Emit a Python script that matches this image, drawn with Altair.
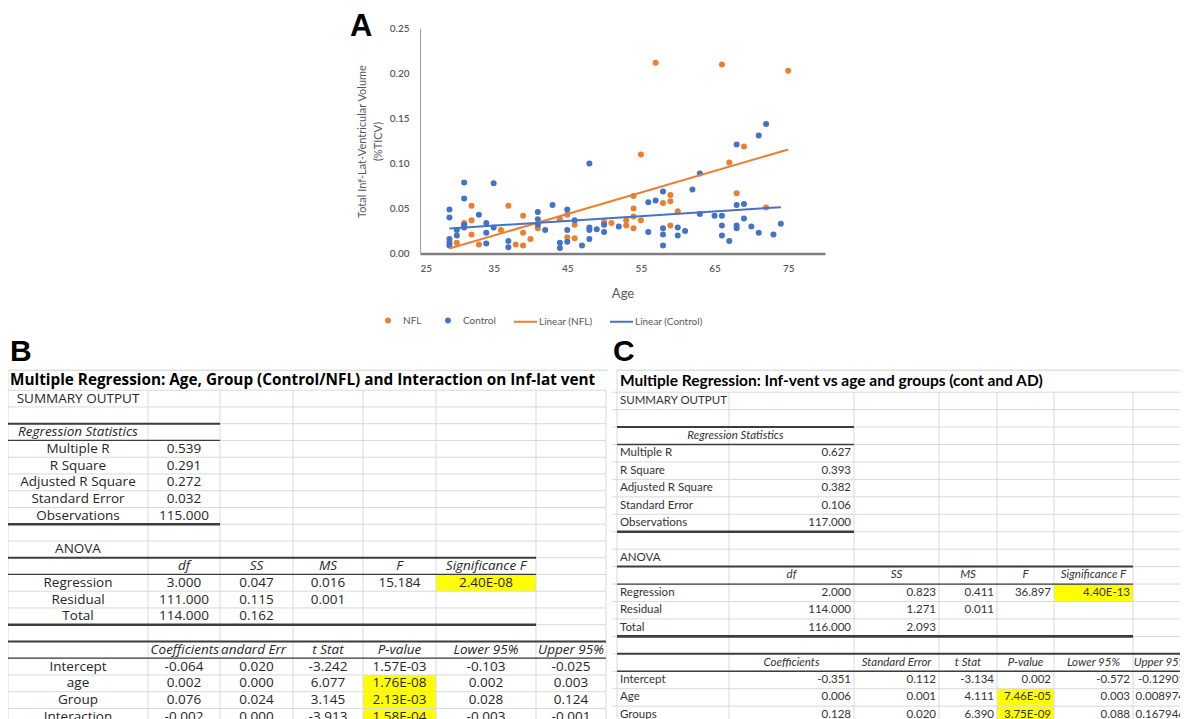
import math
import altair as alt
import pandas as pd

# ================= Panel A : scatter data =================
nfl_age = [57, 66, 75, 55, 69, 67, 68, 72, 54, 54, 54, 54, 55, 58, 59, 59, 59, 60, 53, 53, 51,
           50, 46, 46, 45, 45, 44, 41, 40, 39, 39, 39, 38, 37, 36, 33, 32, 32, 32, 31, 30]
nfl_vol = [0.212, 0.210, 0.203, 0.110, 0.119, 0.101, 0.067, 0.051, 0.064, 0.050, 0.041, 0.028,
           0.037, 0.056, 0.065, 0.058, 0.031, 0.047, 0.037, 0.031, 0.034, 0.035, 0.032, 0.017,
           0.043, 0.018, 0.038, 0.028, 0.016, 0.042, 0.023, 0.009, 0.010, 0.053, 0.026, 0.010,
           0.053, 0.037, 0.021, 0.034, 0.012]
ctrl_age = [72, 71, 68, 63, 48, 62, 58, 57, 56, 68, 69, 31, 35, 31, 29, 29, 43, 45, 41, 41,
            41, 33, 34, 34, 34, 35, 31, 31, 30, 30, 29, 29, 29, 37, 37, 42, 44, 44, 45, 45,
            46, 47, 48, 48, 48, 49, 50, 50, 52, 56, 58, 58, 58, 60, 60, 61, 63, 65, 66, 66,
            66, 67, 68, 68, 69, 70, 71, 73, 74]
ctrl_vol = [0.144, 0.131, 0.121, 0.089, 0.100, 0.071, 0.069, 0.059, 0.057, 0.054,
            0.055, 0.079, 0.078, 0.061, 0.049, 0.040, 0.054, 0.049, 0.046, 0.038,
            0.032, 0.043, 0.034, 0.023, 0.011, 0.029, 0.032, 0.029, 0.026, 0.020,
            0.016, 0.012, 0.009, 0.014, 0.007, 0.026, 0.012, 0.006, 0.026, 0.013,
            0.037, 0.009, 0.029, 0.026, 0.016, 0.027, 0.032, 0.024, 0.030, 0.024,
            0.028, 0.021, 0.009, 0.029, 0.020, 0.025, 0.044, 0.042, 0.042, 0.031,
            0.020, 0.014, 0.031, 0.028, 0.039, 0.030, 0.023, 0.021, 0.033]
trend_nfl_age = [29, 75]
trend_nfl_vol = [0.0056, 0.1156]
trend_ctrl_age = [29, 74]
trend_ctrl_vol = [0.0278, 0.0515]
point_series = ["NFL", "Control"]
line_series = ["Linear (NFL)", "Linear (Control)"]
series_colors = ["#ED7D31", "#4472C4"]
x_ticks = [25, 35, 45, 55, 65, 75]
y_ticks = [0, 0.05, 0.10, 0.15, 0.20, 0.25]

# ================= Panel B : table values =================
B_TITLE = "Multiple Regression: Age,  Group (Control/NFL) and Interaction on Inf-lat vent"
B_STAT_LABELS = ["Multiple R", "R Square", "Adjusted R Square", "Standard Error", "Observations"]
B_STAT_VALUES = ["0.539", "0.291", "0.272", "0.032", "115.000"]
B_ANOVA_HEAD = ["df", "SS", "MS", "F", "Significance F"]
B_ANOVA_LABELS = ["Regression", "Residual", "Total"]
B_ANOVA_VALUES = [["3.000", "0.047", "0.016", "15.184", "2.40E-08"],
                  ["111.000", "0.115", "0.001"],
                  ["114.000", "0.162"]]
B_COEF_HEAD = ["Coefficients", "andard Err", "t Stat", "P-value", "Lower 95%", "Upper 95%"]
B_COEF_LABELS = ["Intercept", "age", "Group", "Interaction"]
B_COEF_VALUES = [["-0.064", "0.020", "-3.242", "1.57E-03", "-0.103", "-0.025"],
                 ["0.002", "0.000", "6.077", "1.76E-08", "0.002", "0.003"],
                 ["0.076", "0.024", "3.145", "2.13E-03", "0.028", "0.124"],
                 ["-0.002", "0.000", "-3.913", "1.58E-04", "-0.003", "-0.001"]]
B_HIGHLIGHT = [(12, 5), (18, 4), (19, 4), (20, 4)]

# ================= Panel C : table values =================
C_TITLE = "Multiple Regression:  Inf-vent vs age and groups (cont and AD)"
C_STAT_LABELS = ["Multiple R", "R Square", "Adjusted R Square", "Standard Error", "Observations"]
C_STAT_VALUES = ["0.627", "0.393", "0.382", "0.106", "117.000"]
C_ANOVA_HEAD = ["df", "SS", "MS", "F", "Significance F"]
C_ANOVA_LABELS = ["Regression", "Residual", "Total"]
C_ANOVA_VALUES = [["2.000", "0.823", "0.411", "36.897", "4.40E-13"],
                  ["114.000", "1.271", "0.011"],
                  ["116.000", "2.093"]]
C_COEF_HEAD = ["Coefficients", "Standard Error", "t Stat", "P-value", "Lower 95%", "Upper 95%"]
C_COEF_LABELS = ["Intercept", "Age", "Groups"]
C_COEF_VALUES = [["-0.351", "0.112", "-3.134", "0.002", "-0.572", "-0.12901"],
                 ["0.006", "0.001", "4.111", "7.46E-05", "0.003", "0.008974"],
                 ["0.128", "0.020", "6.390", "3.75E-09", "0.088", "0.167946"]]
C_HIGHLIGHT = [(12, 5), (18, 4), (19, 4)]

# ================= styling / layout =================
FONT = "Lato"
GREY = "#595959"

# ---------- Panel A chart ----------
pts = pd.DataFrame({
    "age": nfl_age + ctrl_age,
    "vol": nfl_vol + ctrl_vol,
    "series": ["NFL"] * len(nfl_age) + ["Control"] * len(ctrl_age),
})
trend = pd.DataFrame({
    "age": trend_nfl_age + trend_ctrl_age,
    "vol": trend_nfl_vol + trend_ctrl_vol,
    "series": [line_series[0]] * len(trend_nfl_age) + [line_series[1]] * len(trend_ctrl_age),
})

x_scale = alt.Scale(domain=[25, 80], range=[412, 817], nice=False, zero=False)
y_scale = alt.Scale(domain=[0, 0.25], nice=False, zero=False)

leg_pts = alt.Legend(orient="none", legendX=375, legendY=287, direction="horizontal",
                     title=None, labelFont=FONT, labelFontSize=10, labelColor=GREY,
                     labelOffset=10, columnPadding=21, symbolSize=34, symbolType="circle",
                     padding=0)
leg_lines = alt.Legend(orient="none", legendX=505, legendY=280.5, direction="horizontal",
                       title=None, labelFont=FONT, labelFontSize=10, labelColor=GREY,
                       labelOffset=1, columnPadding=13, symbolSize=529, symbolType="stroke",
                       symbolStrokeWidth=2, padding=0)

x_axis = alt.Axis(values=x_ticks, ticks=False, tickSize=0, grid=False, domainColor="#7f7f7f",
                  domainWidth=2.5, labelFont=FONT, labelFontSize=10, labelFontWeight=600,
                  labelColor=GREY, labelPadding=10, title="Age", titleFont=FONT,
                  titleFontSize=13, titleFontWeight="normal", titleColor=GREY, titlePadding=14)
y_axis = alt.Axis(values=y_ticks, format=".2f", offset=-412, ticks=False, tickSize=0,
                  grid=False, domainColor="#a6a6a6", domainWidth=1.2, labelFont=FONT,
                  labelFontSize=10, labelFontWeight=600, labelColor=GREY, labelPadding=11,
                  title=["Total Inf-Lat-Ventricular Volume", "(%TICV)"], titleFont=FONT,
                  titleFontSize=11, titleFontWeight="normal", titleColor=GREY,
                  titleLineHeight=16, titlePadding=6)

points = alt.Chart(pts).mark_circle(size=36, opacity=1).encode(
    x=alt.X("age:Q", scale=x_scale, axis=x_axis),
    y=alt.Y("vol:Q", scale=y_scale, axis=y_axis),
    color=alt.Color("series:N", scale=alt.Scale(domain=point_series, range=series_colors),
                    legend=leg_pts),
)
lines = alt.Chart(trend).mark_line(strokeWidth=2).encode(
    x=alt.X("age:Q", scale=x_scale),
    y=alt.Y("vol:Q", scale=y_scale),
    stroke=alt.Stroke("series:N", scale=alt.Scale(domain=line_series, range=series_colors),
                      legend=leg_lines),
)
letter_a = alt.Chart(pd.DataFrame({"t": ["A"]})).mark_text(
    font="Liberation Sans", fontSize=31, fontWeight="bold", align="left", baseline="top",
    color="black").encode(x=alt.value(342), y=alt.value(-16.5), text="t:N")

scatter = alt.layer(points, lines, letter_a).resolve_scale(color="independent").properties(
    width=817, height=225)


# ---------- table builder ----------
def make_table(edges, width, y_dom, title_top, title, title_x, title_size, letter, letter_x,
               letter_y, cells, highlights, thick, font, body_size, body_color, grid_x0, pad):
    xs = alt.Scale(domain=[0, width], nice=False, zero=False)
    ys = alt.Scale(domain=y_dom, nice=False, zero=False, reverse=True)
    X = lambda f: alt.X(f, scale=xs, axis=None)
    Y = lambda f: alt.Y(f, scale=ys, axis=None)

    last = int(math.floor(y_dom[1]))
    hgrid = pd.DataFrame({"y": list(range(0, last + 1)), "x": grid_x0, "x2": edges[-1]})
    htop = pd.DataFrame({"y": [title_top], "x": [edges[0]], "x2": [width]})
    vgrid = pd.DataFrame({"x": edges, "y": [title_top] + [0] * (len(edges) - 1), "y2": y_dom[1]})

    hl = pd.DataFrame({"x": [edges[c] for r, c in highlights],
                       "x2": [edges[c + 1] for r, c in highlights],
                       "y": [r - 1 for r, c in highlights],
                       "y2": [r for r, c in highlights]})
    th = pd.DataFrame({"y": [t[0] for t in thick], "x": [edges[t[1]] for t in thick],
                       "x2": [edges[t[2]] for t in thick], "w": [t[3] for t in thick]})

    rows = []
    for (row, c0, c1, text, align, style) in cells:
        if align == "center":
            x = (edges[c0] + edges[c1]) / 2
        elif align == "left":
            x = edges[c0] + pad
        else:
            x = edges[c1] - pad
        rows.append({"x": x, "y": row - 0.5, "text": text, "align": align, "style": style})
    cdf = pd.DataFrame(rows)

    layers = [
        alt.Chart(hl).mark_rect(color="#FFFF00", clip=True).encode(
            x=X("x:Q"), x2="x2:Q", y=Y("y:Q"), y2="y2:Q"),
        alt.Chart(hgrid).mark_rule(color="#d9d9d9", strokeWidth=1, clip=True).encode(
            x=X("x:Q"), x2="x2:Q", y=Y("y:Q")),
        alt.Chart(htop).mark_rule(color="#d0d0d0", strokeWidth=1, clip=True).encode(
            x=X("x:Q"), x2="x2:Q", y=Y("y:Q")),
        alt.Chart(vgrid).mark_rule(color="#d9d9d9", strokeWidth=1, clip=True).encode(
            x=X("x:Q"), y=Y("y:Q"), y2="y2:Q"),
        alt.Chart(th).mark_rule(color="#3c3c3c", clip=True).encode(
            x=X("x:Q"), x2="x2:Q", y=Y("y:Q"), strokeWidth=alt.StrokeWidth("w:Q", scale=None)),
    ]
    for (al, st), grp in cdf.groupby(["align", "style"]):
        layers.append(alt.Chart(grp).mark_text(
            align=al, baseline="middle", font=font, fontSize=body_size, fontStyle=st,
            color=body_color, clip=True).encode(x=X("x:Q"), y=Y("y:Q"), text="text:N"))
    layers.append(alt.Chart(pd.DataFrame({"t": [title], "x": [title_x],
                                          "y": [title_top / 2]})).mark_text(
        align="left", baseline="middle", font=font, fontSize=title_size, fontWeight="bold",
        color="black", clip=True).encode(x=X("x:Q"), y=Y("y:Q"), text="t:N"))
    layers.append(alt.Chart(pd.DataFrame({"t": [letter], "x": [letter_x],
                                          "y": [letter_y]})).mark_text(
        align="left", baseline="alphabetic", font="Liberation Sans", fontSize=30,
        fontWeight="bold", color="black", clip=True).encode(x=X("x:Q"), y=Y("y:Q"), text="t:N"))
    return alt.layer(*layers).properties(width=width, height=391)


# ---------- Panel B cells ----------
B_EDGES = [0, 140, 212, 285, 355, 428, 528, 598]
b_cells = [(1, 0, 1, "SUMMARY OUTPUT", "center", "normal"),
           (3, 0, 1, "Regression Statistics", "center", "italic")]
for i, (lab, val) in enumerate(zip(B_STAT_LABELS, B_STAT_VALUES)):
    b_cells.append((4 + i, 0, 1, lab, "center", "normal"))
    b_cells.append((4 + i, 1, 2, val, "center", "normal"))
b_cells.append((10, 0, 1, "ANOVA", "center", "normal"))
for j, h in enumerate(B_ANOVA_HEAD):
    b_cells.append((11, 1 + j, 2 + j, h, "center", "italic"))
for i, (lab, vals) in enumerate(zip(B_ANOVA_LABELS, B_ANOVA_VALUES)):
    b_cells.append((12 + i, 0, 1, lab, "center", "normal"))
    for j, v in enumerate(vals):
        b_cells.append((12 + i, 1 + j, 2 + j, v, "center", "normal"))
b_head_align = ["right", "left", "center", "center", "center", "center"]
for j, h in enumerate(B_COEF_HEAD):
    b_cells.append((16, 1 + j, 2 + j, h, b_head_align[j], "italic"))
for i, (lab, vals) in enumerate(zip(B_COEF_LABELS, B_COEF_VALUES)):
    b_cells.append((17 + i, 0, 1, lab, "center", "normal"))
    for j, v in enumerate(vals):
        b_cells.append((17 + i, 1 + j, 2 + j, v, "center", "normal"))
B_THICK = [(2, 0, 2, 2.0), (3, 0, 2, 1.3), (8, 0, 2, 2.6), (10, 0, 6, 2.0), (11, 0, 6, 1.3),
           (14, 0, 6, 2.6), (15, 0, 7, 2.0), (16, 0, 7, 1.3)]
table_b = make_table(B_EDGES, 600, [-3.284, 20.06], -1.194, B_TITLE, 2, 15.3, "B", 2, -1.731,
                     b_cells, B_HIGHLIGHT, B_THICK, "Open Sans", 13.5, "#262626", 0, 1)

# ---------- Panel C cells ----------
C_EDGES = [5, 117, 242, 327, 385, 442, 521, 576]
c_cells = [(1, 0, 1, "SUMMARY OUTPUT", "left", "normal"),
           (3, 0, 2, "Regression Statistics", "center", "italic")]
for i, (lab, val) in enumerate(zip(C_STAT_LABELS, C_STAT_VALUES)):
    c_cells.append((4 + i, 0, 1, lab, "left", "normal"))
    c_cells.append((4 + i, 1, 2, val, "right", "normal"))
c_cells.append((10, 0, 1, "ANOVA", "left", "normal"))
for j, h in enumerate(C_ANOVA_HEAD):
    c_cells.append((11, 1 + j, 2 + j, h, "center", "italic"))
for i, (lab, vals) in enumerate(zip(C_ANOVA_LABELS, C_ANOVA_VALUES)):
    c_cells.append((12 + i, 0, 1, lab, "left", "normal"))
    for j, v in enumerate(vals):
        c_cells.append((12 + i, 1 + j, 2 + j, v, "right", "normal"))
for j, h in enumerate(C_COEF_HEAD):
    c_cells.append((16, 1 + j, 2 + j, h, "center", "italic"))
for i, (lab, vals) in enumerate(zip(C_COEF_LABELS, C_COEF_VALUES)):
    c_cells.append((17 + i, 0, 1, lab, "left", "normal"))
    for j, v in enumerate(vals):
        c_cells.append((17 + i, 1 + j, 2 + j, v, "right", "normal"))
C_THICK = [(2, 0, 2, 2.0), (3, 0, 2, 1.3), (8, 0, 2, 2.6), (10, 0, 6, 2.0), (11, 0, 6, 1.3),
           (14, 0, 6, 2.6), (15, 0, 7, 2.0), (16, 0, 7, 1.3)]
table_c = make_table(C_EDGES, 568, [-3.268, 19.15], -1.261, C_TITLE, 8, 15.5, "C", 1, -1.778,
                     c_cells, C_HIGHLIGHT, C_THICK, "Lato", 11.5, "#333333", 0, 3)

bottom = alt.hconcat(table_b, table_c, spacing=4, bounds="flush")
chart = alt.vconcat(scatter, bottom, spacing=81.7, bounds="flush").properties(
    padding={"left": 0, "top": 2.5, "right": 0, "bottom": 0}
).configure_view(strokeWidth=0)

chart.save("out.html", embed_options={"renderer": "svg", "actions": False})
